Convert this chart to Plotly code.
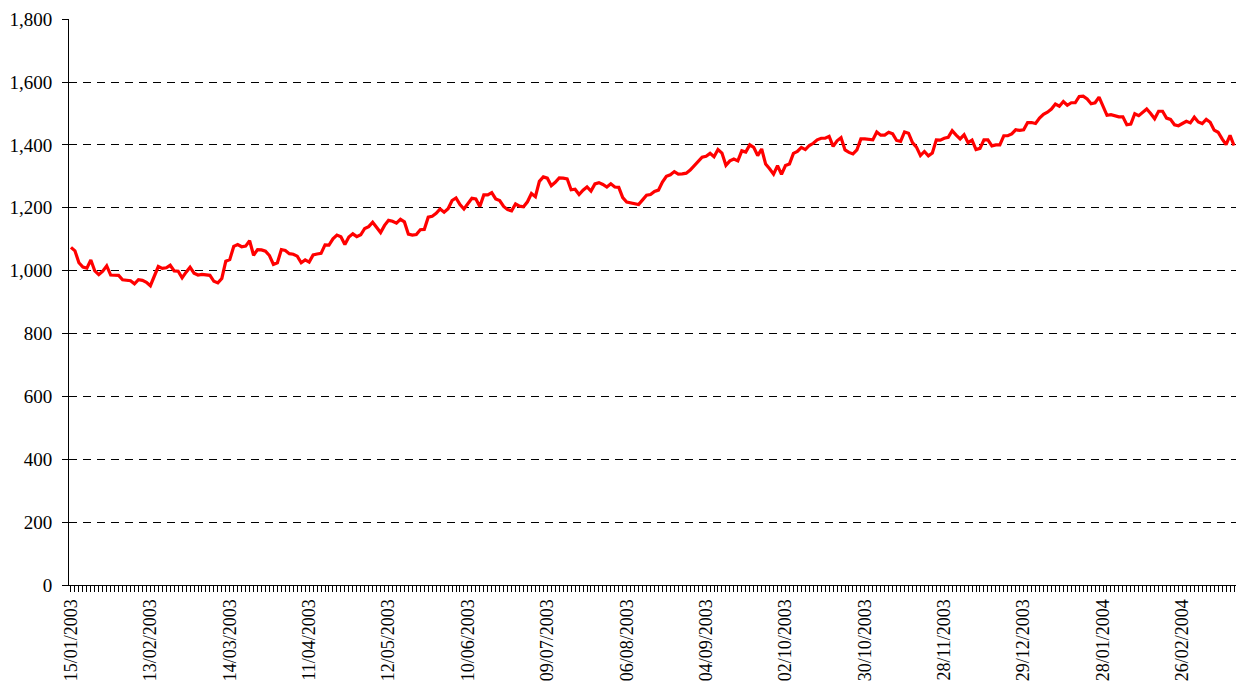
import pandas as pd
import plotly.graph_objects as go

# Series values (one per trading day, 15/01/2003 onwards)
values = [
    1074, 1063, 1025, 1011, 1008, 1034, 999, 987, 998, 1015,
    986, 985, 985, 971, 970, 968, 958, 971, 969, 963,
    952, 984, 1013, 1007, 1009, 1017, 999, 998, 977, 995,
    1011, 992, 986, 988, 987, 985, 966, 961, 975, 1030,
    1035, 1077, 1083, 1076, 1078, 1095, 1049, 1067, 1066, 1062,
    1048, 1020, 1025, 1067, 1064, 1054, 1052, 1046, 1025, 1034,
    1027, 1050, 1053, 1055, 1082, 1081, 1101, 1113, 1108, 1083,
    1107, 1117, 1108, 1114, 1134, 1140, 1154, 1136, 1121, 1144,
    1160, 1157, 1151, 1163, 1155, 1116, 1113, 1115, 1130, 1131,
    1170, 1173, 1182, 1196, 1186, 1197, 1223, 1231, 1210, 1196,
    1213, 1230, 1228, 1204, 1241, 1241, 1248, 1228, 1223, 1204,
    1194, 1190, 1212, 1205, 1203, 1219, 1245, 1235, 1284, 1298,
    1294, 1270, 1281, 1295, 1294, 1292, 1257, 1259, 1242, 1256,
    1266, 1253, 1276, 1280, 1274, 1266, 1276, 1266, 1265, 1232,
    1218, 1216, 1213, 1210, 1225, 1240, 1242, 1252, 1256, 1282,
    1300, 1305, 1315, 1307, 1308, 1310, 1320, 1333, 1345, 1361,
    1364, 1373, 1362, 1385, 1374, 1335, 1349, 1355, 1349, 1381,
    1377, 1400, 1392, 1366, 1387, 1339, 1324, 1307, 1334, 1306,
    1334, 1339, 1373, 1379, 1392, 1385, 1398, 1405, 1416, 1421,
    1421, 1427, 1395, 1413, 1423, 1384, 1376, 1371, 1384, 1419,
    1419, 1418, 1416, 1441, 1431, 1431, 1440, 1435, 1414, 1411,
    1441, 1437, 1407, 1393, 1366, 1379, 1365, 1374, 1416, 1415,
    1421, 1424, 1445, 1431, 1419, 1432, 1407, 1415, 1385, 1389,
    1416, 1416, 1397, 1400, 1400, 1429, 1429, 1435, 1448, 1446,
    1448, 1471, 1471, 1468, 1485, 1497, 1504, 1514, 1530, 1523,
    1538, 1526, 1534, 1534, 1554, 1555, 1546, 1531, 1534, 1552,
    1523, 1494, 1496, 1493, 1489, 1489, 1464, 1466, 1499, 1493,
    1502, 1514, 1500, 1483, 1507, 1507, 1485, 1481, 1464, 1461,
    1468, 1475, 1470, 1488, 1473, 1468, 1481, 1472, 1447, 1440,
    1419, 1401, 1430, 1398,
]

# Market holidays skipped in the category axis
holidays = [
    "2003-01-20", "2003-02-17", "2003-04-18", "2003-05-26", "2003-07-04",
    "2003-09-01", "2003-11-27", "2003-12-25", "2004-01-01", "2004-01-19",
    "2004-02-16",
]

# Labelled ticks
tick_labels = [
    "15/01/2003", "13/02/2003", "14/03/2003", "11/04/2003", "12/05/2003",
    "10/06/2003", "09/07/2003", "06/08/2003", "04/09/2003", "02/10/2003",
    "30/10/2003", "28/11/2003", "29/12/2003", "28/01/2004", "26/02/2004",
]

dates = pd.bdate_range(start="2003-01-15", periods=len(values), freq="C",
                       holidays=holidays)
categories = [d.strftime("%d/%m/%Y") for d in dates]

ticktext = [c if c in tick_labels else "" for c in categories]

Y_RANGE = [0, 1800.4]

fig = go.Figure()
fig.add_trace(go.Scatter(
    x=categories, y=values, mode="lines",
    line=dict(color="#ff0000", width=3.2),
    hoverinfo="x+y",
))

font_family = "Liberation Serif, Times New Roman, serif"

fig.update_layout(
    width=1238, height=691,
    margin=dict(l=69, r=2, t=19, b=106),
    paper_bgcolor="white", plot_bgcolor="white",
    showlegend=False,
    font=dict(family=font_family, size=18, color="black"),
    xaxis=dict(
        type="category",
        automargin=False,
        range=[-0.5, len(values) - 0.5],
        tickmode="array",
        tickvals=categories,
        ticktext=ticktext,
        tickangle=-90,
        ticks="outside", ticklen=6, tickwidth=1, tickcolor="black",
        showline=True, linecolor="black", linewidth=1,
        showgrid=False, zeroline=False,
        tickfont=dict(family=font_family, size=18, color="black"),
    ),
    yaxis=dict(
        automargin=False,
        range=Y_RANGE,
        tick0=0, dtick=200,
        tickformat=",",
        ticks="outside", ticklen=6, tickwidth=1, tickcolor="black",
        ticklabelstandoff=6,
        showline=True, linecolor="black", linewidth=1,
        showgrid=True, gridcolor="black", gridwidth=1, griddash="8px,6px",
        zeroline=False,
        tickfont=dict(family=font_family, size=19, color="black"),
    ),
)

# Remove the default page margin so the figure fills the window exactly
fig.write_html(
    "out.html",
    config={"displayModeBar": False},
    post_script="document.body.style.margin='0';"
                "document.body.style.overflow='hidden';",
)
